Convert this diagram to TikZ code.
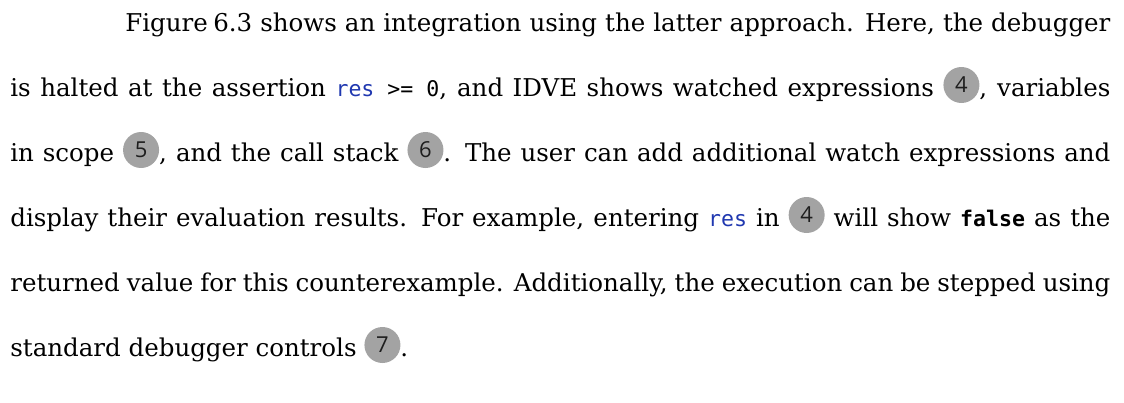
\documentclass[tikz,border=0pt]{standalone}
\usepackage{fontspec}
\setmainfont{DejaVu Serif}
\setmonofont[Scale=0.88]{DejaVu Sans Mono}
\newfontfamily\badgefont{Open Sans}
\usetikzlibrary{shapes.geometric}
\definecolor{codeblue}{RGB}{32,56,176}
\definecolor{badgegray}{RGB}{163,163,163}
\definecolor{badgeink}{RGB}{30,30,30}
\tikzset{
  badgenode/.style={circle, fill=badgegray, minimum size=18pt, inner sep=0pt, text=badgeink, font=\badgefont\fontsize{11}{11}\selectfont},
  textline/.style={anchor=base west, inner sep=0pt, font=\fontsize{12.25}{15}\selectfont}
}
\newcommand\badge[1]{\tikz[baseline={([yshift=-5.5pt]bdg.center)}]\node[badgenode](bdg){#1};}
\newcommand\cde[1]{{\ttfamily\color{codeblue}#1}}
\begin{document}
\begin{tikzpicture}[x=1pt,y=1pt]
\useasboundingbox (0,0) rectangle (562,-201);
\node[textline] (l1) at (62.5,-15.5) {\makebox[492.5pt][s]{Figure\hspace{0.22em}6.3 shows an integration using the latter approach. Here, the debugger}};
\node[textline] (l2) at (5,-48) {\makebox[550pt][s]{is halted at the assertion {\ttfamily\textcolor{codeblue}{res} >= 0}, and IDVE shows watched expressions \badge{4}, variables}};
\node[textline] (l3) at (5,-80.5) {\makebox[550pt][s]{in scope \badge{5}, and the call stack \badge{6}. The user can add additional watch expressions and}};
\node[textline] (l4) at (5,-113) {\makebox[550pt][s]{display their evaluation results. For example, entering \cde{res} in \badge{4} will show \texttt{\bfseries false} as the}};
\node[textline] (l5) at (5,-145.5) {\makebox[550pt][s]{returned value for this counterexample. Additionally, the execution can be stepped using}};
\node[textline] (l6) at (5,-178) {standard debugger controls \badge{7}.};
\end{tikzpicture}
\end{document}
